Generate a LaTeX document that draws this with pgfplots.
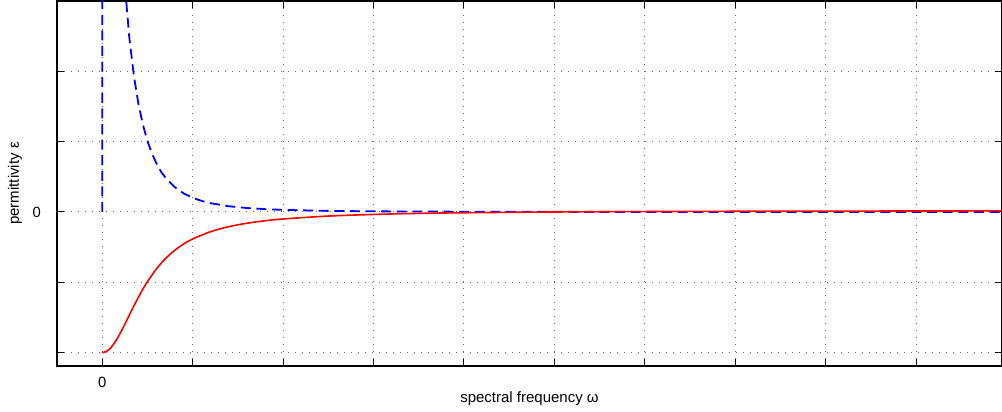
\documentclass[border=0pt]{standalone}
\usepackage{fontspec}
\setmainfont{Liberation Sans}
\usepackage{pgfplots}
\pgfplotsset{compat=1.18}
\begin{document}
\begin{tikzpicture}
\begin{axis}[
  at={(0,0)}, anchor=south west,
  scale only axis, width=472.5pt, height=182.5pt,
  xmin=-0.5, xmax=9.95, ymin=-2.19, ymax=3,
  xtick={0,1,...,9}, xticklabels={0},
  ytick={-2,-1,0,1,2}, yticklabels={,,0},
  tick align=inside, major tick length=3.5pt,
  grid=major,
  major grid style={black!60, line width=0.5pt, dash pattern=on 0.5pt off 3pt},
  axis line style={line width=0.6pt},
  every tick/.style={black, line width=0.5pt},
  /pgf/number format/assume math mode=true,
  tick label style={font=\fontsize{7.4}{8.8}\selectfont},
  xticklabel style={yshift=-2pt},
  yticklabel style={xshift=-4.5pt},
  label style={font=\fontsize{7.5}{8.8}\selectfont},
  xlabel={spectral frequency ω},
  ylabel={permittivity ε},
  xlabel style={at={(axis description cs:0.5,0)}, anchor=center, yshift=-16.5pt},
  ylabel style={at={(axis description cs:0,0.5)}, anchor=center, rotate=0, yshift=21pt},
]
\addplot[blue, line width=0.9pt, dash pattern=on 5pt off 2.8pt] coordinates {
(0,0) (0.02,50.4) (0.1,9.71) (0.2,4.353) (0.25,3.232) (0.3,2.475) (0.35,1.937)
(0.4,1.540) (0.45,1.240) (0.5,1.010) (0.55,0.831) (0.6,0.690) (0.65,0.573) (0.7,0.487)
(0.8,0.355) (0.9,0.265) (1.0,0.202) (1.1,0.157) (1.2,0.1245) (1.4,0.0816) (1.6,0.0562)
(1.8,0.0402) (2.0,0.0297) (2.5,0.0155) (3,0.0091) (4,0.0039) (5,0.0020) (6,0.0012)
(8,0.0005) (9.95,0.0003)
};
\addplot[red, line width=0.8pt, smooth] coordinates {
(0,-2.000) (0.05,-1.980) (0.1,-1.922) (0.15,-1.833) (0.2,-1.721) (0.25,-1.596)
(0.3,-1.465) (0.35,-1.336) (0.4,-1.212) (0.45,-1.096) (0.5,-0.990) (0.6,-0.808)
(0.7,-0.662) (0.8,-0.547) (0.9,-0.456) (1.0,-0.384) (1.2,-0.279) (1.4,-0.209)
(1.6,-0.160) (1.8,-0.125) (2.0,-0.099) (2.5,-0.058) (3.0,-0.035) (3.5,-0.020)
(4,-0.011) (5,0.000) (6,0.006) (7,0.010) (8,0.012) (9,0.014) (9.95,0.015)
};
\end{axis}
\pgfresetboundingbox
\useasboundingbox (-28.5pt,-23pt) rectangle (472.5pt,183pt);
\end{tikzpicture}
\end{document}
